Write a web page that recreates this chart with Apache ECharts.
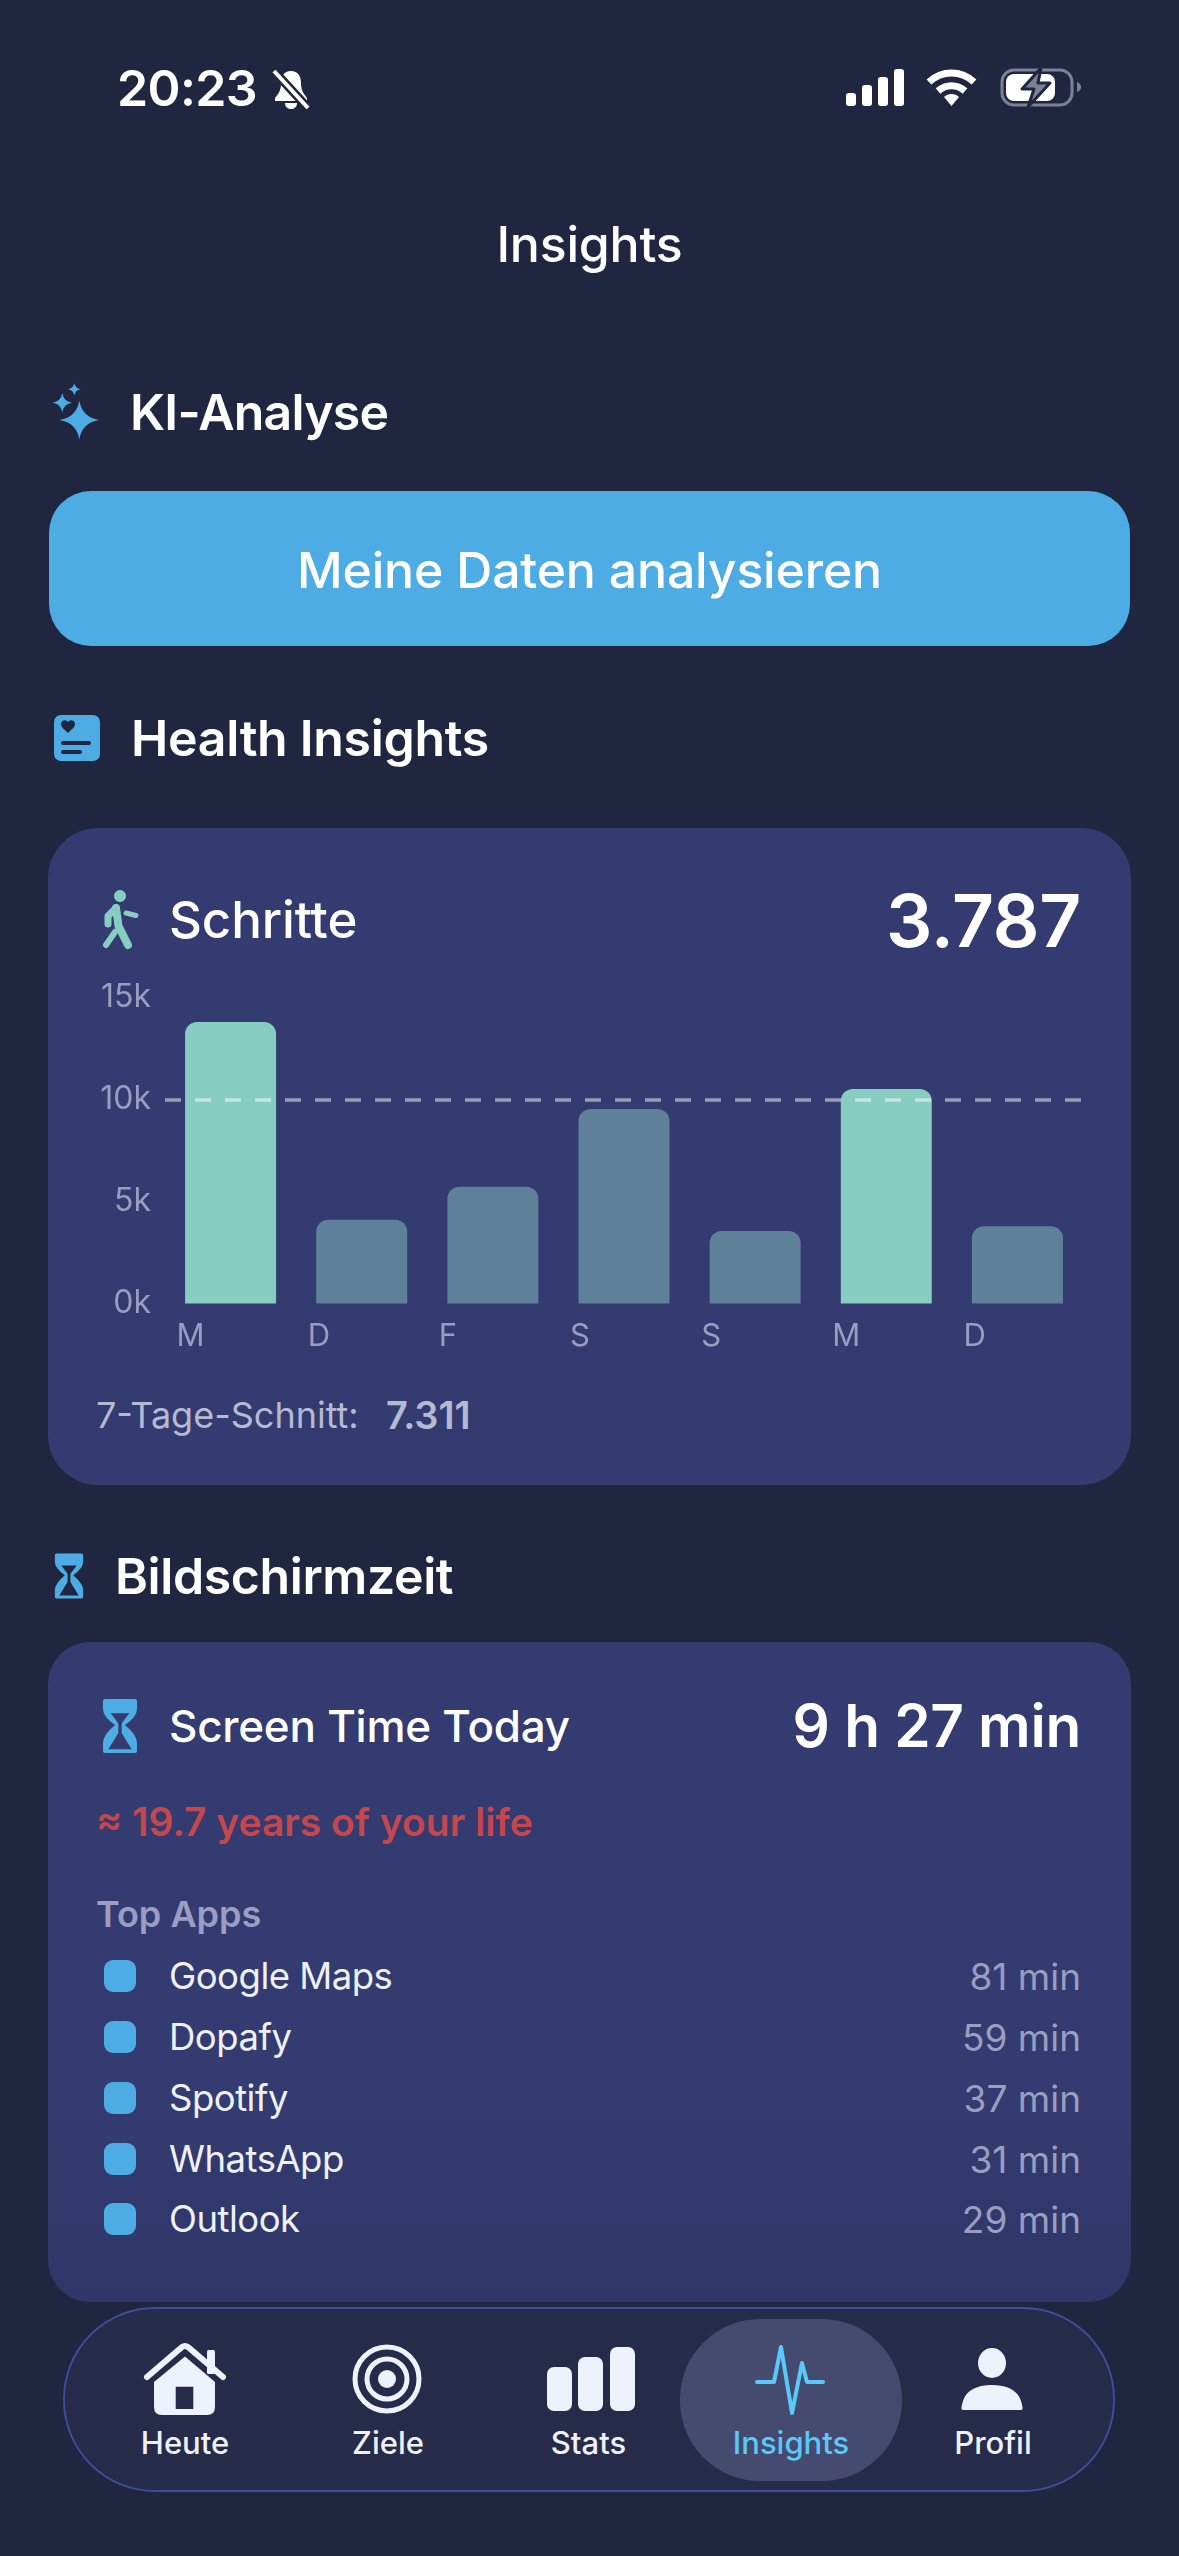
<!DOCTYPE html>
<html lang="de">
<head>
<meta charset="utf-8">
<title>Insights</title>
<script src="https://cdn.jsdelivr.net/npm/echarts@6/dist/echarts.min.js"></script>
<style>
html, body { margin: 0; padding: 0; }
body { width: 1179px; height: 2556px; position: relative; overflow: hidden; background: #20263f;
  font-family: Inter, "Noto Sans", sans-serif; color: #fff; }
.t { position: absolute; white-space: nowrap; line-height: 1; transform: translateY(-50%); }
.c { transform: translate(-50%, -50%); }
.r { transform: translateY(-50%); text-align: right; }
.box { position: absolute; }
svg { position: absolute; overflow: visible; }
.head { font-size: 50px; font-weight: 600; letter-spacing: -0.8px; }
.app { font-size: 36.500px; color: #eef0fa; letter-spacing: -0.5px; }
.min { font-size: 37px; color: #9a9dc0; right: 98px; }
.square { position: absolute; left: 104px; width: 32px; height: 32px; border-radius: 9px; background: #4eace4; }
.nav { font-size: 31px; font-weight: 500; color: #eef2fd; letter-spacing: 0; }
#chart { position: absolute; left: 48px; top: 970px; width: 1083px; height: 400px; }
</style>
</head>
<body>

<!-- status bar -->
<div class="t" style="left:117px;top:88px;font-size:50px;font-weight:600;letter-spacing:-0.6px">20:23</div>
<svg style="left:271px;top:69px" width="40" height="41" viewBox="0 0 40 41">
  <path d="M20 2c-7 0-10 5-10 12 0 7-2 10-6 15v3h32v-3c-4-5-6-8-6-15 0-7-3-12-10-12z" fill="#fff"/>
  <path d="M14 34h12c0 4-3 6-6 6s-6-2-6-6z" fill="#fff"/>
  <path d="M3 2l34 37" stroke="#20263f" stroke-width="9"/>
  <path d="M3 2l34 37" stroke="#fff" stroke-width="4"/>
</svg>
<svg style="left:846px;top:69px" width="58" height="37">
  <rect x="0" y="24" width="10" height="13" rx="3" fill="#fff"/>
  <rect x="16" y="16" width="10" height="21" rx="3" fill="#fff"/>
  <rect x="32" y="8" width="10" height="29" rx="3" fill="#fff"/>
  <rect x="48" y="0" width="10" height="37" rx="3" fill="#fff"/>
</svg>
<svg style="left:926px;top:69px" width="51" height="37" viewBox="0 0 51 37">
  <path d="M3 13C16 1 35 1 48 13" fill="none" stroke="#fff" stroke-width="7"/>
  <path d="M12 22c8-7 19-7 27 0" fill="none" stroke="#fff" stroke-width="7"/>
  <path d="M18 28c4-4 11-4 15 0l-7.500 9z" fill="#fff"/>
</svg>
<svg style="left:1000px;top:68px" width="84" height="39" viewBox="0 0 84 39">
  <rect x="2" y="2" width="70" height="35" rx="12" fill="none" stroke="#7d8194" stroke-width="3"/>
  <rect x="6" y="6" width="49" height="27" rx="8" fill="#fff"/>
  <path d="M77 14c3 1 4 3 4 5s-1 4-4 5z" fill="#7d8194"/>
  <path d="M41 0L22 21h12l-6 18 22-24H38z" fill="#7d8194" stroke="#20263f" stroke-width="3" stroke-linejoin="round"/>
</svg>

<div class="t c" style="left:589.500px;top:244px;font-size:50px;font-weight:500;letter-spacing:-0.2px">Insights</div>

<!-- KI-Analyse -->
<svg style="left:52px;top:384px" width="48" height="56" viewBox="0 0 48 56" fill="#4eace4">
  <path d="M27.300 16.500Q30 33.300 47 36Q30 38.700 27.300 55.500Q24.600 38.700 7.600 36Q24.600 33.300 27.300 16.500z"/>
  <path d="M10.300 9Q11.600 17.400 20 18.700Q11.600 20 10.300 28.400Q9 20 0.600 18.700Q9 17.400 10.300 9z"/>
  <path d="M22.300 -1Q23.200 4.400 28.600 5.300Q23.200 6.200 22.300 11.600Q21.400 6.200 16 5.300Q21.400 4.400 22.300 -1z"/>
</svg>
<div class="t head" style="left:130px;top:412px">KI-Analyse</div>
<div class="box" style="left:49px;top:491px;width:1081px;height:155px;border-radius:42px;background:#4eace4"></div>
<div class="t c" style="left:589.500px;top:570px;font-size:50px;font-weight:500;letter-spacing:-0.2px">Meine Daten analysieren</div>

<!-- Health Insights -->
<svg style="left:54px;top:715px" width="46" height="46" viewBox="0 0 46 46">
  <rect width="46" height="46" rx="7" fill="#4eace4"/>
  <path d="M14 18c-4-4-7-6-7-9 0-4 5-5 7-2 2-3 7-2 7 2 0 3-3 5-7 9z" fill="#20263f"/>
  <rect x="7" y="26" width="30" height="4" rx="2" fill="#20263f"/>
  <rect x="7" y="35" width="21" height="4" rx="2" fill="#20263f"/>
</svg>
<div class="t head" style="left:131px;top:738px;letter-spacing:-0.3px">Health Insights</div>

<!-- Schritte card -->
<div class="box" style="left:48px;top:828px;width:1083px;height:657px;border-radius:50px;background:#333b70"></div>
<svg style="left:102px;top:890px" width="36" height="58" viewBox="0 0 36 58" fill="none" stroke="#88cdc2" stroke-linecap="round" stroke-linejoin="round">
  <circle cx="18" cy="6" r="6" fill="#88cdc2" stroke="none"/>
  <path d="M14 18L6 26v8" stroke-width="7"/>
  <path d="M14 18l2.500 18L26 55" stroke-width="8"/>
  <path d="M13 42L4 55" stroke-width="6"/>
  <path d="M24 23l10 2.500" stroke-width="5"/>
</svg>
<div class="t head" style="left:169px;top:919px;font-weight:500;font-size:51px;letter-spacing:-0.1px">Schritte</div>
<div class="t r" id="todayLabel" style="right:98px;top:920px;font-size:73px;font-weight:600;letter-spacing:-0.3px"></div>
<div id="chart"></div>
<div class="t" style="left:96px;top:1415px;font-size:36px;color:#b6b9d2">7-Tage-Schnitt:</div>
<div class="t" id="avgLabel" style="left:386px;top:1415px;font-size:38px;font-weight:600;color:#b6b9d2"></div>

<!-- Bildschirmzeit -->
<svg style="left:54px;top:1553px" width="30" height="46" viewBox="0 0 36 54">
  <path fill-rule="evenodd" fill="#4eace4" d="M3 0H33Q35 0 35 2V10Q35 18 23 26Q35 36 35 44V52Q35 54 33 54H3Q1 54 1 52V44Q1 36 13 26Q1 18 1 10V2Q1 0 3 0zM8.700 14.300H27.300L19.700 24.300V34.300L29.700 50.300H6.300L16.300 34.300V24.300z"/>
</svg>
<div class="t head" style="left:115px;top:1576px;font-weight:600;letter-spacing:-0.4px">Bildschirmzeit</div>

<div class="box" style="left:48px;top:1642px;width:1083px;height:660px;border-radius:42px;background:linear-gradient(#333b70 70%,#2f3768)"></div>
<svg style="left:102px;top:1699px" width="36" height="54" viewBox="0 0 36 54">
  <path fill-rule="evenodd" fill="#4eace4" d="M3 0H33Q35 0 35 2V10Q35 18 23 26Q35 36 35 44V52Q35 54 33 54H3Q1 54 1 52V44Q1 36 13 26Q1 18 1 10V2Q1 0 3 0zM8.700 14.300H27.300L19.700 24.300V34.300L29.700 50.300H6.300L16.300 34.300V24.300z"/>
</svg>
<div class="t" style="left:169px;top:1726px;font-size:44px;font-weight:500;letter-spacing:-0.25px">Screen Time Today</div>
<div class="t r" style="right:98px;top:1726px;font-size:58.500px;font-weight:600;letter-spacing:-0.3px">9 h 27 min</div>
<div class="t" style="left:96px;top:1821px;font-size:39px;font-weight:600;color:#c4474d">≈ 19.7 years of your life</div>
<div class="t" style="left:96px;top:1914px;font-size:36px;font-weight:600;color:#9b9ec2">Top Apps</div>
<div id="appList"></div>

<!-- tab bar -->
<div class="box" style="left:63px;top:2307px;width:1048px;height:181px;border-radius:92px;background:#252b49;border:2px solid #3f4c9c"></div>
<div class="box" style="left:680px;top:2319px;width:222px;height:162px;border-radius:80px;background:#444b6e"></div>
<svg style="left:144px;top:2343px" width="82" height="72" viewBox="0 0 82 72">
  <rect x="63" y="7" width="8" height="24" rx="1.500" fill="#eef2fd"/>
  <path fill-rule="evenodd" fill="#eef2fd" d="M41 13.500L10 39V64q0 8 8 8H63q8 0 8-8V39zM31.700 43.700H49.300V66H31.700z"/>
  <path d="M3 34L38 4q3-2 6 0l35 30" fill="none" stroke="#eef2fd" stroke-width="6" stroke-linecap="round" stroke-linejoin="round"/>
</svg>
<svg style="left:352px;top:2344px" width="70" height="70" viewBox="0 0 70 70" fill="none" stroke="#eef2fd" stroke-width="5">
  <circle cx="35" cy="35" r="32"/>
  <circle cx="35" cy="35" r="20"/>
  <circle cx="35" cy="35" r="9" fill="#eef2fd" stroke="none"/>
</svg>
<svg style="left:547px;top:2347px" width="88" height="64" fill="#eef2fd">
  <rect x="0" y="20" width="25" height="44" rx="7"/>
  <rect x="31" y="10" width="25" height="54" rx="7"/>
  <rect x="63" y="0" width="25" height="64" rx="7"/>
</svg>
<svg style="left:755px;top:2345px" width="70" height="70" viewBox="0 0 70 70" fill="none" stroke="#5ac8fa" stroke-width="4" stroke-linejoin="round" stroke-linecap="round">
  <path d="M2 37h17L26 2l11 66 10-50 5 19h16"/>
</svg>
<svg style="left:962px;top:2348px" width="60" height="62" fill="#eef2fd">
  <ellipse cx="30" cy="15" rx="14" ry="15"/>
  <path d="M1 62c-3 0-1-5 0-9 3-10 13-16 29-16s26 6 29 16c1 4 3 9 0 9z"/>
</svg>
<div class="t c nav" style="left:185px;top:2442px">Heute</div>
<div class="t c nav" style="left:388px;top:2442px">Ziele</div>
<div class="t c nav" style="left:588.500px;top:2442px">Stats</div>
<div class="t c nav" style="left:791px;top:2442px;color:#5ac8fa">Insights</div>
<div class="t c nav" style="left:993px;top:2442px">Profil</div>

<script>
var days = ['M', 'D', 'F', 'S', 'S', 'M', 'D'];
var steps = [13800, 4100, 5720, 9540, 3550, 10520, 3787];
var stepGoal = 10000;
var todaySteps = '3.787';
var weekAverage = '7.311';

var appNames = ['Google Maps', 'Dopafy', 'Spotify', 'WhatsApp', 'Outlook'];
var appMinutes = [81, 59, 37, 31, 29];
var appRowY = [1976, 2037, 2098, 2159, 2219];

document.getElementById('todayLabel').textContent = todaySteps;
document.getElementById('avgLabel').textContent = weekAverage;

var listHtml = '';
for (var i = 0; i < appNames.length; i++) {
    listHtml += '<div class="square" style="top:' + (appRowY[i] - 16) + 'px"></div>';
    listHtml += '<div class="t app" style="left:169px;top:' + appRowY[i] + 'px">' + appNames[i] + '</div>';
    listHtml += '<div class="t r min" style="top:' + appRowY[i] + 'px">' + appMinutes[i] + ' min</div>';
}
document.getElementById('appList').innerHTML = listHtml;

var barData = [];
for (var i = 0; i < steps.length; i++) {
    barData.push({
        value: steps[i],
        itemStyle: { color: steps[i] >= stepGoal ? '#88cdc2' : '#5e8199' }
    });
}

var myChart = echarts.init(document.getElementById('chart'));
myChart.setOption({
    animation: false,
    grid: { left: 117, top: 27.5, width: 918, height: 306 },
    xAxis: {
        type: 'category',
        data: days,
        axisLine: { show: false },
        axisTick: { show: false },
        axisLabel: {
            interval: 0,
            align: 'left',
            margin: 18,
            padding: [0, 0, 0, -54],
            color: '#9a9dc0',
            fontFamily: 'Inter',
            fontSize: 31
        }
    },
    yAxis: {
        type: 'value',
        min: 0,
        max: 15000,
        interval: 5000,
        splitLine: { show: false },
        axisLabel: {
            margin: 14,
            lineHeight: 38,
            padding: [6, 0, 0, 0],
            verticalAlign: 'middle',
            color: '#9a9dc0',
            fontFamily: 'Inter',
            fontSize: 32,
            formatter: function (v) { return (v / 1000) + 'k'; }
        }
    },
    series: [{
        type: 'bar',
        data: barData,
        barWidth: 91,
        itemStyle: { borderRadius: [12, 12, 0, 0] },
        markLine: {
            silent: true,
            symbol: 'none',
            label: { show: false },
            lineStyle: { color: 'rgba(255,255,255,0.5)', type: [16, 14], width: 3.5 },
            data: [{ yAxis: stepGoal }]
        }
    }]
});
</script>
</body>
</html>
